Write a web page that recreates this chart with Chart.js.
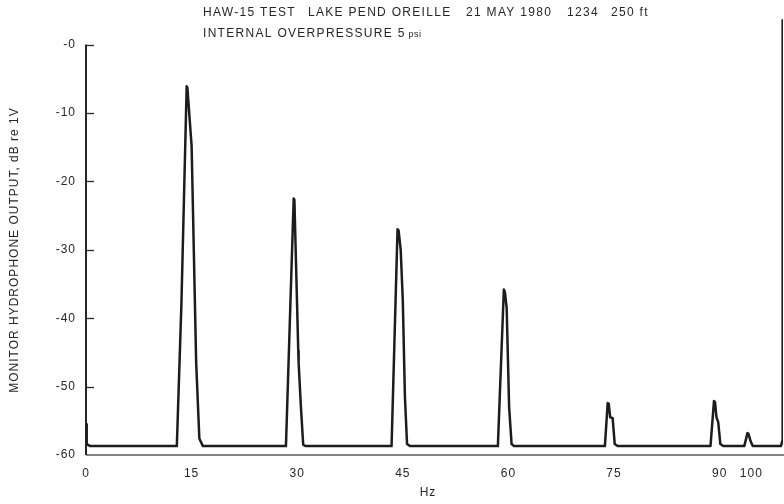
<!DOCTYPE html>
<html>
<head>
<meta charset="utf-8">
<script src="https://cdn.jsdelivr.net/npm/chart.js@4.4.1/dist/chart.umd.min.js"></script>
<style>
  html, body { margin: 0; padding: 0; background: #ffffff; }
  #wrap { width: 784px; height: 504px; position: relative; }
  canvas { display: block; }
</style>
</head>
<body>
<div id="wrap"><canvas id="c" width="784" height="504"></canvas></div>
<script>
// ---- data (frequency in Hz, level in dB re 1V) ----
const freqHz = [
  0.1, 0.1, 0.6, 12.9,
  13.55, 14.3, 14.4, 15.0, 15.65, 16.1, 16.6,
  28.4, 29.5, 29.6, 30.15, 30.2, 30.5, 30.85, 31.2,
  43.4, 44.25, 44.4, 44.7, 45.0, 45.3, 45.6, 46.0,
  58.5, 59.35, 59.5, 59.75, 60.1, 60.45, 60.8,
  73.7, 74.1, 74.25, 74.45, 74.8, 75.1, 75.5,
  88.7, 89.2, 89.35, 89.55, 89.8, 90.1, 90.5,
  93.5, 93.95, 94.1, 94.4, 94.7,
  98.7, 98.95, 98.95
];
const levelDb = [
  -55.5, -58.4, -58.7, -58.7,
  -38.0, -6.1, -6.3, -14.8, -46.5, -57.6, -58.7,
  -58.7, -22.5, -22.7, -44.8, -46.5, -52.5, -58.5, -58.7,
  -58.7, -27.0, -27.2, -30.0, -37.5, -51.5, -58.4, -58.7,
  -58.7, -35.8, -36.2, -38.5, -53.0, -58.4, -58.7,
  -58.7, -52.4, -52.5, -54.5, -54.6, -58.4, -58.7,
  -58.7, -52.1, -52.3, -54.5, -55.2, -58.4, -58.7,
  -58.7, -56.8, -56.9, -58.0, -58.7,
  -58.7, -57.8, 3.7
];
const xTickValues = [0, 15, 30, 45, 60, 75, 90, 94.5];
const xTickLabels = ['0', '15', '30', '45', '60', '75', '90', '100'];
const yTickValues = [-60, -50, -40, -30, -20, -10, 0];
const yTickLabels = ['-60', '-50', '-40', '-30', '-20', '-10', '-0'];

const titleLine1 = ['HAW-15 TEST', 'LAKE PEND OREILLE', '21 MAY 1980', '1234', '250 ft'];
const titleLine2 = 'INTERNAL OVERPRESSURE 5';
const titleLine2Unit = 'psi';
const yAxisTitle = 'MONITOR HYDROPHONE OUTPUT, dB re 1V';
const xAxisTitle = 'Hz';

const points = freqHz.map((f, i) => ({ x: f, y: levelDb[i] }));

const FONT = '"Liberation Sans", Arial, Helvetica, sans-serif';
const INK = '#262626';

const decor = {
  id: 'decor',
  beforeDraw(chart) {
    chart.ctx.letterSpacing = '1px';
  },
  beforeDatasetsDraw(chart) {
    const ctx = chart.ctx;
    const xs = chart.scales.x, ys = chart.scales.y;
    const x0 = xs.left;
    const yTop = ys.getPixelForValue(0);
    const yBot = ys.getPixelForValue(-60);
    ctx.save();
    // bottom axis line
    ctx.strokeStyle = '#5a5a5a';
    ctx.lineWidth = 1.5;
    ctx.beginPath();
    ctx.moveTo(x0, yBot);
    ctx.lineTo(784, yBot);
    ctx.stroke();
    // left axis line
    ctx.strokeStyle = INK;
    ctx.lineWidth = 2;
    ctx.beginPath();
    ctx.moveTo(x0, yTop);
    ctx.lineTo(x0, yBot);
    ctx.stroke();
    // inward tick marks
    ctx.lineWidth = 1.3;
    yTickValues.forEach(v => {
      if (v === -60) return;
      const py = Math.round(ys.getPixelForValue(v)) + 0.5;
      ctx.beginPath();
      ctx.moveTo(x0, py);
      ctx.lineTo(x0 + 8, py);
      ctx.stroke();
    });
    ctx.restore();
  },
  afterDraw(chart) {
    const ctx = chart.ctx;
    ctx.save();
    ctx.fillStyle = INK;
    ctx.textBaseline = 'middle';
    ctx.textAlign = 'left';
    ctx.letterSpacing = '1.3px';
    ctx.font = '12px ' + FONT;
    const starts = [203, 308, 466, 567, 611];
    titleLine1.forEach((s, i) => ctx.fillText(s, starts[i], 13));
    ctx.fillText(titleLine2, 203, 34);
    const w = ctx.measureText(titleLine2).width;
    ctx.font = '9px ' + FONT;
    ctx.letterSpacing = '0.5px';
    ctx.fillText(titleLine2Unit, 203 + w + 3, 35);
    // x axis title
    ctx.font = '12px ' + FONT;
    ctx.letterSpacing = '1px';
    ctx.textAlign = 'center';
    ctx.fillText(xAxisTitle, 428, 493);
    // y axis title
    ctx.translate(15, 250);
    ctx.rotate(-Math.PI / 2);
    ctx.fillText(yAxisTitle, 0, 0);
    ctx.restore();
  }
};

new Chart(document.getElementById('c'), {
  type: 'line',
  data: {
    datasets: [{
      data: points,
      borderColor: '#1c1c1c',
      borderWidth: 2.5,
      borderJoinStyle: 'round',
      pointRadius: 0,
      tension: 0,
      fill: false
    }]
  },
  options: {
    responsive: false,
    animation: false,
    devicePixelRatio: 1,
    layout: { padding: { top: 13, right: 1, left: 0, bottom: 0 } },
    plugins: { legend: { display: false }, tooltip: { enabled: false } },
    scales: {
      x: {
        type: 'linear',
        min: 0,
        max: 99,
        afterFit(scale) { scale.height = 49; },
        afterBuildTicks(scale) { scale.ticks = xTickValues.map(v => ({ value: v })); },
        grid: { display: false, drawTicks: false },
        border: { display: false },
        ticks: {
          autoSkip: false,
          maxRotation: 0,
          padding: 11,
          color: INK,
          font: { family: FONT, size: 12 },
          callback: (v, i) => xTickLabels[i]
        }
      },
      y: {
        type: 'linear',
        min: -60,
        max: 4,
        afterFit(scale) { scale.width = 86; },
        afterBuildTicks(scale) { scale.ticks = yTickValues.map(v => ({ value: v })); },
        grid: { display: false, drawTicks: false },
        border: { display: false },
        ticks: {
          autoSkip: false,
          padding: 10,
          color: INK,
          font: { family: FONT, size: 12 },
          callback: (v, i) => yTickLabels[i]
        }
      }
    }
  },
  plugins: [decor]
});
</script>
</body>
</html>
